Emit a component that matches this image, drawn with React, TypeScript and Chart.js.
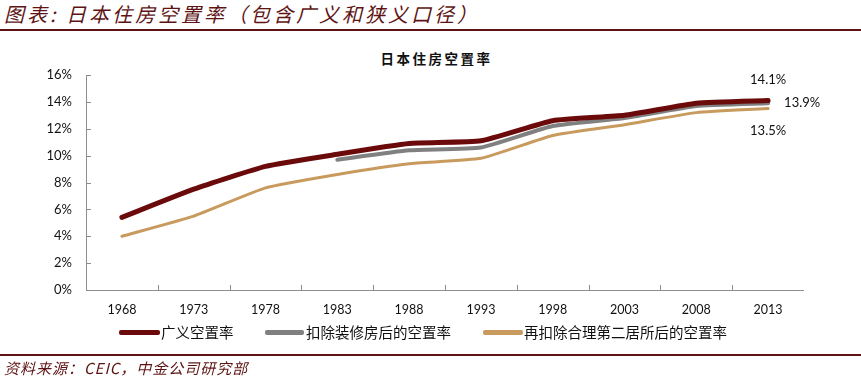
import React, { useEffect, useRef } from "react";
import { Chart, registerables } from "chart.js";

Chart.register(...registerables);

const years = ["1968", "1973", "1978", "1983", "1988", "1993", "1998", "2003", "2008", "2013"];
const broadRate = [5.4, 7.5, 9.2, 10.1, 10.9, 11.1, 12.6, 13.0, 13.9, 14.1];
const exRenovRate = [null, null, null, 9.7, 10.4, 10.6, 12.2, 12.8, 13.7, 13.9];
const exSecondRate = [4.0, 5.5, 7.6, 8.6, 9.4, 9.8, 11.5, 12.3, 13.2, 13.5];
const seriesNames = ["广义空置率", "扣除装修房后的空置率", "再扣除合理第二居所后的空置率"];
const seriesColors = ["#6b0a0a", "#808080", "#c89a5e"];
const seriesWidths = [5, 4, 3];
const endLabels = ["14.1%", "13.9%", "13.5%"];

const AXIS = "#8c8c8c";
const TICK_FONT = "Lato, 'Liberation Sans', sans-serif";

const innerTicks = {
  id: "innerTicks",
  afterDraw(chart: any) {
    const { ctx, chartArea, scales } = chart;
    const x = scales.x;
    const y = scales.y;
    ctx.save();
    ctx.strokeStyle = AXIS;
    ctx.lineWidth = 1;
    ctx.beginPath();
    ctx.moveTo(chartArea.left + 0.5, chartArea.top);
    ctx.lineTo(chartArea.left + 0.5, chartArea.bottom);
    ctx.moveTo(chartArea.left, chartArea.bottom + 0.5);
    ctx.lineTo(chartArea.right, chartArea.bottom + 0.5);
    y.ticks.forEach((t: any) => {
      const py = Math.round(y.getPixelForValue(t.value)) + 0.5;
      ctx.moveTo(chartArea.left, py);
      ctx.lineTo(chartArea.left + 5, py);
    });
    for (let i = 1; i < years.length; i++) {
      const px = Math.round((x.getPixelForValue(i - 1) + x.getPixelForValue(i)) / 2) + 0.5;
      ctx.moveTo(px, chartArea.bottom);
      ctx.lineTo(px, chartArea.bottom - 5);
    }
    ctx.stroke();

    ctx.fillStyle = "#111";
    ctx.font = `13px ${TICK_FONT}`;
    ctx.textBaseline = "middle";
    const last = years.length - 1;
    const p0 = chart.getDatasetMeta(0).data[last];
    const p1 = chart.getDatasetMeta(1).data[last];
    const p2 = chart.getDatasetMeta(2).data[last];
    ctx.textAlign = "center";
    ctx.fillText(endLabels[0], p0.x, p0.y - 21);
    ctx.textAlign = "left";
    ctx.fillText(endLabels[1], p1.x + 16, p1.y);
    ctx.textAlign = "center";
    ctx.fillText(endLabels[2], p2.x, p2.y + 22);
    ctx.restore();
  },
};

export default function App() {
  const ref = useRef<HTMLCanvasElement | null>(null);

  useEffect(() => {
    document.body.style.margin = "0";
    const canvas = ref.current;
    if (!canvas) return;
    const data = [broadRate, exRenovRate, exSecondRate];
    const chart = new Chart(canvas, {
      type: "line",
      data: {
        labels: years,
        datasets: data.map((d, i) => ({
          label: seriesNames[i],
          data: d as any,
          borderColor: seriesColors[i],
          backgroundColor: seriesColors[i],
          borderWidth: seriesWidths[i],
          pointRadius: 0,
          tension: 0.15,
          spanGaps: false,
          borderCapStyle: "round" as const,
        })),
      },
      options: {
        responsive: false,
        animation: false,
        devicePixelRatio: 1,
        layout: { padding: { left: 0, right: 57, top: 75, bottom: 0 } },
        plugins: {
          legend: { display: false },
          title: { display: false },
          tooltip: { enabled: false },
        },
        scales: {
          x: {
            type: "category",
            offset: true,
            grid: { display: false, drawTicks: false },
            border: { display: false },
            ticks: {
              color: "#111",
              font: { family: TICK_FONT, size: 12.5 },
              padding: 12,
              maxRotation: 0,
              autoSkip: false,
            },
            afterFit: (s: any) => {
              s.height = 89;
            },
          },
          y: {
            min: 0,
            max: 16,
            grid: { display: false, drawTicks: false },
            border: { display: false },
            ticks: {
              stepSize: 2,
              color: "#111",
              font: { family: TICK_FONT, size: 13 },
              padding: 14,
              callback: (v: any) => `${v}%`,
            },
            afterFit: (s: any) => {
              s.width = 86;
            },
          },
        },
      },
      plugins: [innerTicks],
    });
    return () => chart.destroy();
  }, []);

  const headerFont = "'Noto Sans CJK SC', sans-serif";
  const darkRed = "#5e1414";
  const legendPos = [
    { lx: 119, lw: 41, tx: 161 },
    { lx: 265, lw: 39, tx: 306 },
    { lx: 483, lw: 40, tx: 524 },
  ];

  return (
    <div style={{ position: "relative", width: 861, height: 379, background: "#fff", overflow: "hidden" }}>
      <div
        style={{
          position: "absolute",
          left: 4,
          top: 0,
          fontFamily: headerFont,
          fontStyle: "italic",
          fontSize: 20,
          letterSpacing: 3,
          color: darkRed,
          whiteSpace: "nowrap",
          lineHeight: "28px",
        }}
      >
        图表: 日本住房空置率（包含广义和狭义口径）
      </div>
      <div style={{ position: "absolute", left: 0, top: 29, width: 861, height: 2, background: darkRed }} />
      <div
        style={{
          position: "absolute",
          left: 0,
          width: 861,
          top: 49,
          textAlign: "center",
          paddingLeft: 6,
          fontFamily: headerFont,
          fontWeight: 700,
          fontSize: 13.5,
          letterSpacing: 2.5,
          color: "#111",
          lineHeight: "18px",
        }}
      >
        日本住房空置率
      </div>
      <canvas ref={ref} width={861} height={379} style={{ position: "absolute", left: 0, top: 0, width: 861, height: 379 }} />
      <div style={{ position: "absolute", top: 322, left: 0, height: 20, width: 861 }}>
        {legendPos.map((p, i) => (
          <React.Fragment key={i}>
            <div
              style={{
                position: "absolute",
                left: p.lx,
                top: 8,
                width: p.lw,
                height: 5,
                borderRadius: 2,
                background: seriesColors[i],
              }}
            />
            <div
              style={{
                position: "absolute",
                left: p.tx,
                top: 0,
                fontFamily: headerFont,
                fontSize: 14.5,
                color: "#111",
                whiteSpace: "nowrap",
                lineHeight: "20px",
              }}
            >
              {seriesNames[i]}
            </div>
          </React.Fragment>
        ))}
      </div>
      <div style={{ position: "absolute", left: 0, top: 354, width: 861, height: 2, background: darkRed }} />
      <div
        style={{
          position: "absolute",
          left: 4,
          top: 357,
          fontFamily: headerFont,
          fontStyle: "italic",
          fontSize: 15,
          letterSpacing: 1,
          color: darkRed,
          whiteSpace: "nowrap",
          lineHeight: "22px",
        }}
      >
        资料来源：CEIC，中金公司研究部
      </div>
    </div>
  );
}
